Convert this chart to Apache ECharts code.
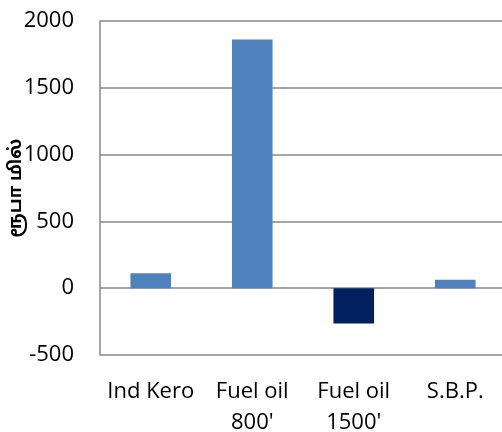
<!DOCTYPE html>
<html>
<head>
<meta charset="utf-8">
<script src="https://cdn.jsdelivr.net/npm/echarts@6/dist/echarts.min.js"></script>
<style>
  html, body { margin: 0; padding: 0; background: #fff; }
  #chart { width: 502px; height: 432px; }
</style>
</head>
<body>
<div id="chart"></div>
<script>
var categories = ['Ind Kero', "Fuel oil\n800'", "Fuel oil\n1500'", 'S.B.P.'];
var values = [112, 1862, -265, 63];
var yName = 'ரூபா மில்';

var myChart = echarts.init(document.getElementById('chart'));
var option = {
	animation: false,
	grid: {
		left: 100,
		right: -4,
		top: 21,
		bottom: 77,
		outerBoundsMode: 'none'
	},
	xAxis: {
		type: 'category',
		data: categories,
		axisLine: { show: false },
		axisTick: { show: false },
		axisLabel: {
			interval: 0,
			color: '#000',
			fontSize: 22,
			fontFamily: '"Open Sans", sans-serif',
			lineHeight: 31,
			margin: 21
		}
	},
	yAxis: {
		type: 'value',
		min: -500,
		max: 2000,
		interval: 500,
		name: yName,
		nameLocation: 'middle',
		nameRotate: 90,
		nameGap: 74,
		nameMoveOverlap: false,
		nameTextStyle: {
			color: '#000',
			fontSize: 18,
			fontWeight: 'bold',
			fontFamily: '"Noto Sans Tamil", "Noto Sans", sans-serif'
		},
		axisLine: { show: true, lineStyle: { color: '#888', width: 1.5 } },
		axisTick: { show: false },
		axisLabel: {
			color: '#000',
			fontSize: 22,
			fontFamily: '"Open Sans", sans-serif',
			margin: 26,
			formatter: function (v) { return String(v); }
		},
		splitLine: { lineStyle: { color: '#888', width: 1.5 } }
	},
	series: [{
		type: 'bar',
		barWidth: '40%',
		data: values.map(function (v) {
			return {
				value: v,
				itemStyle: { color: v < 0 ? '#002060' : '#4F81BD' }
			};
		})
	}]
};
myChart.setOption(option);
</script>
</body>
</html>
